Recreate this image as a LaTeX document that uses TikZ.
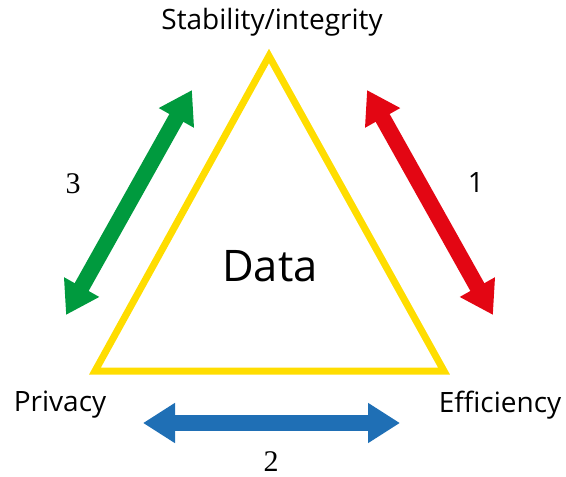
\documentclass[tikz,border=0pt]{standalone}
\usepackage{fontspec}
\setmainfont{Open Sans}
\newfontfamily\numfont{Liberation Serif}
\usetikzlibrary{arrows.meta}
\definecolor{triyellow}{HTML}{FFDD00}
\definecolor{arrgreen}{HTML}{009A3E}
\definecolor{arrred}{HTML}{E30613}
\definecolor{arrblue}{HTML}{1F6FB5}
\tikzset{
  dblarrow/.style={line width=16pt, {Triangle[width=38pt,length=32pt]}-{Triangle[width=38pt,length=32pt]}},
  lbl/.style={inner sep=0pt, font=\fontsize{28}{32}\selectfont},
  numlbl/.style={inner sep=0pt, font=\numfont\fontsize{30}{34}\selectfont},
}
\begin{document}
\begin{tikzpicture}[x=1pt,y=-1pt]
\useasboundingbox (0,0) rectangle (566,477);
% triangle
\coordinate (apex) at (269,56);
\coordinate (bl) at (95,371);
\coordinate (br) at (444,371);
\draw[triyellow, line width=7pt, line join=miter] (apex) -- (br) -- (bl) -- cycle;
\node[inner sep=0pt, font=\fontsize{43.5}{48}\selectfont] (data) at (270,266) {Data};
% labels
\node[lbl] (stab) at (272,22) {Stability/integrity};
\node[lbl] (priv) at (60,405) {Privacy};
\node[lbl] (eff) at (500,405) {Efficiency};
\node[numlbl] (n3) at (73,184) {3};
\node[inner sep=0pt, font=\fontsize{28}{32}\selectfont] (n1) at (476,183) {1};
\node[numlbl] (n2) at (271,462) {2};
% arrows
\coordinate (gT) at (192,90);
\coordinate (gB) at (66,315);
\coordinate (rT) at (367,90);
\coordinate (rB) at (493,315);
\coordinate (bL) at (143,423);
\coordinate (bR) at (400,423);
\draw[dblarrow, arrgreen] (gB) -- (gT);
\draw[dblarrow, arrred] (rT) -- (rB);
\draw[dblarrow, arrblue] (bL) -- (bR);
\end{tikzpicture}
\end{document}
